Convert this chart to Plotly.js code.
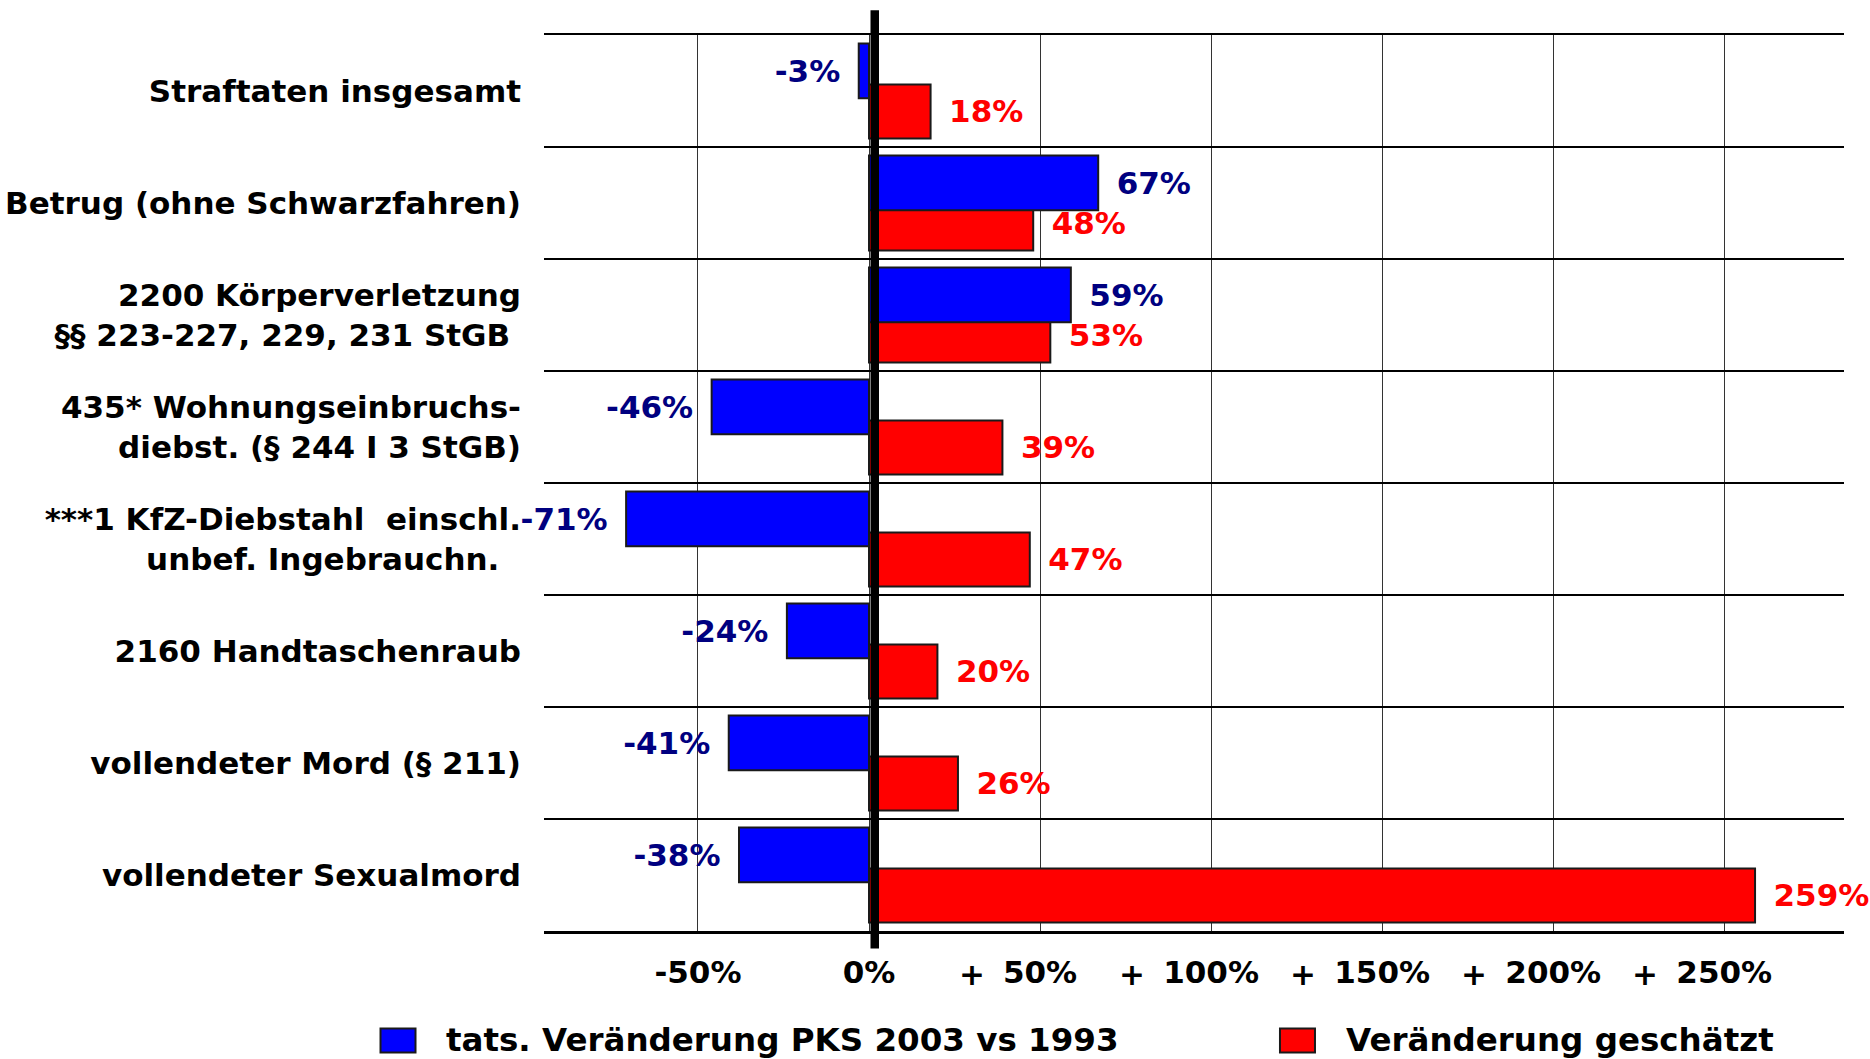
<!DOCTYPE html>
<html>
<head>
<meta charset="utf-8">
<script src="https://cdn.plot.ly/plotly-3.0.1.min.js"></script>
<style>html,body{margin:0;padding:0;background:#fff}#chart{width:1870px;height:1059px}</style>
</head>
<body>
<div id="chart"></div>
<script>
const categories = [
  'Straftaten insgesamt',
  'Betrug (ohne Schwarzfahren)',
  '2200 Körperverletzung<br>§§ 223-227, 229, 231 StGB\u00a0',
  '435* Wohnungseinbruchs-<br>diebst. (§ 244 I 3 StGB)',
  '***1 KfZ-Diebstahl\u00a0 einschl.<br>unbef. Ingebrauchn.\u00a0\u00a0',
  '2160 Handtaschenraub',
  'vollendeter Mord (§ 211)',
  'vollendeter Sexualmord'
];
const seriesNames = ['tats. Veränderung PKS 2003 vs 1993', 'Veränderung geschätzt'];
const actualChange = [-3, 67, 59, -46, -71, -24, -41, -38];
const estimatedChange = [18, 48, 53, 39, 47, 20, 26, 259];
const tickValues = [-50, 0, 50, 100, 150, 200, 250];
const tickLabels = ['-50%', '0%', '+ 50%', '+ 100%', '+ 150%', '+ 200%', '+ 250%'];

const FONT = 'DejaVu Sans';
const TICK_SIZE = 31;
const fmtLabel = v => v < 0 ? (v + '%\u2002') : ('\u2002' + v + '%');

// measure text widths for placing the '+' prefix of tick labels
const cv = document.createElement('canvas').getContext('2d');
cv.font = 'bold ' + TICK_SIZE + 'px "' + FONT + '"';

const estTrace = {
  type: 'bar', orientation: 'h', name: seriesNames[1],
  y: categories, x: estimatedChange,
  offset: -0.058, width: 0.482,
  marker: {color: '#ff0000', line: {color: '#1a1a1a', width: 2}},
  text: estimatedChange.map(fmtLabel), textposition: 'outside',
  textfont: {family: FONT, size: 31, weight: 'bold', color: '#ff0000'},
  constraintext: 'none', cliponaxis: false, hoverinfo: 'x+name'
};
const actTrace = {
  type: 'bar', orientation: 'h', name: seriesNames[0],
  y: categories, x: actualChange,
  offset: -0.425, width: 0.49,
  marker: {color: '#0000ff', line: {color: '#1a1a1a', width: 2}},
  text: actualChange.map(fmtLabel), textposition: 'outside',
  textfont: {family: FONT, size: 31, weight: 'bold', color: '#000080'},
  constraintext: 'none', cliponaxis: false, hoverinfo: 'x+name'
};

const legY = -0.1221;
const legendItems = [
  {sq: -0.1123, tx: -0.0769, color: '#0000ff'},
  {sq: 0.5796, tx: 0.6150, color: '#ff0000'}
];

const shapes = [
  {type: 'rect', xref: 'x', xsizemode: 'pixel', xanchor: 0, x0: 1.5, x1: 10,
   yref: 'paper', y0: -0.0195, y1: 1.0275, fillcolor: '#000', line: {width: 0}, layer: 'above'}
];
const annotations = [];
legendItems.forEach((it, i) => {
  shapes.push({type: 'rect', xref: 'paper', xsizemode: 'pixel', xanchor: it.sq, x0: -17.5, x1: 17.5,
    yref: 'paper', ysizemode: 'pixel', yanchor: legY, y0: -12, y1: 12,
    fillcolor: it.color, line: {color: '#1a1a1a', width: 2}});
  annotations.push({xref: 'paper', yref: 'paper', x: it.tx, y: legY, xanchor: 'left', yanchor: 'middle',
    text: seriesNames[i], showarrow: false,
    font: {family: FONT, size: 32.5, weight: 'bold', color: '#000'}});
});

// split "+ 50%" style labels: number as tick label, "+" sign as a separate text to its left
const tickText = [];
tickLabels.forEach((t, i) => {
  if (t.startsWith('+ ')) {
    const num = t.slice(2);
    tickText.push(num);
    const w = cv.measureText(num).width;
    annotations.push({xref: 'x', yref: 'paper', x: tickValues[i], y: -0.0451,
      xanchor: 'center', yanchor: 'middle', xshift: -(w / 2 + 31), yshift: -3,
      text: '+', showarrow: false,
      font: {family: FONT, size: TICK_SIZE, weight: 'bold', color: '#000'}});
  } else {
    tickText.push(t);
  }
});

const layout = {
  width: 1870, height: 1059,
  margin: {l: 544, r: 26, t: 35, b: 128, pad: 0},
  paper_bgcolor: '#fff', plot_bgcolor: '#fff',
  barmode: 'overlay',
  showlegend: false,
  font: {family: FONT, size: 31, weight: 'bold', color: '#000'},
  xaxis: {
    range: [-95, 285], tickvals: tickValues, ticktext: tickText,
    tickangle: 0,
    showgrid: true, gridcolor: '#333', gridwidth: 1, zeroline: false,
    showline: true, linecolor: '#000', linewidth: 2.5, mirror: true,
    ticks: '', ticklabelstandoff: 12,
    tickfont: {family: FONT, size: TICK_SIZE, weight: 'bold', color: '#000'}
  },
  yaxis: {
    type: 'category', categoryorder: 'array', categoryarray: categories,
    range: [7.5, -0.5], tickson: 'boundaries',
    showgrid: true, gridcolor: '#000', gridwidth: 2.5, zeroline: false,
    showline: false, ticks: '', ticklabelstandoff: 22,
    tickfont: {family: FONT, size: 31, weight: 'bold', color: '#000'}
  },
  shapes: shapes,
  annotations: annotations
};

Plotly.newPlot('chart', [estTrace, actTrace], layout, {staticPlot: true, displayModeBar: false});
</script>
</body>
</html>
